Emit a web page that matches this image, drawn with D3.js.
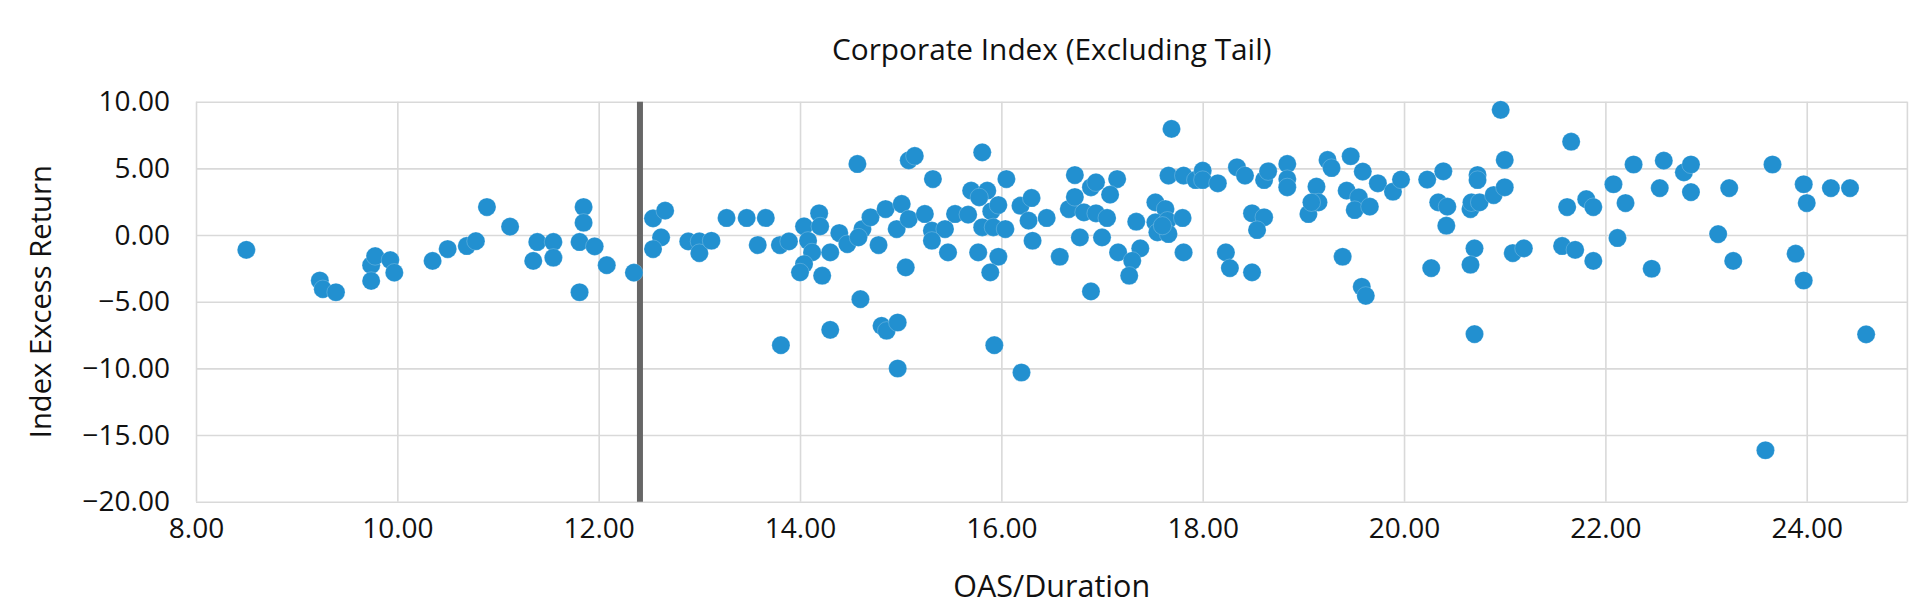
<!DOCTYPE html>
<html>
<head>
<meta charset="utf-8">
<script src="https://cdn.jsdelivr.net/npm/d3@7/dist/d3.min.js"></script>
<style>
  html, body { margin: 0; padding: 0; background: #ffffff; }
  svg { display: block; }
  text { font-family: "Open Sans", "Liberation Sans", sans-serif; fill: #111111; }
</style>
</head>
<body>
<svg id="chart" width="1913" height="616"></svg>
<script>
// ---- data (OAS/Duration, Index Excess Return) ----
const oasDuration = [
  8.50, 9.23, 9.26, 9.39, 9.74, 9.78, 9.74, 9.93, 9.97, 10.35,
  10.50, 10.69, 10.78, 10.89, 11.12, 11.35, 11.39, 11.55, 11.55, 11.81,
  11.81, 11.85, 11.85, 11.96, 12.08, 12.35,
  12.54, 12.66, 12.62, 12.54, 12.89, 13.00, 13.00, 13.12, 13.27, 13.47,
  13.66, 13.58, 13.80, 13.89, 13.81, 14.04, 14.19, 14.20, 14.08, 14.12,
  14.04, 14.00, 14.22, 14.30, 14.30, 14.39, 14.47, 14.57, 14.60,
  14.62, 14.58, 14.70, 14.78, 14.85, 14.96, 15.01, 15.08, 15.05, 15.08,
  15.14, 15.24, 15.32, 15.31, 15.44, 15.31, 15.47, 15.54, 15.67, 15.70,
  15.86, 15.78, 15.90, 15.97, 15.81, 15.92, 16.04, 15.77, 15.97, 15.89,
  15.81, 16.05, 16.19, 16.30, 16.27, 16.45, 16.31, 16.58, 16.67, 16.73,
  16.78, 14.81, 14.86, 14.97, 14.97, 15.93, 16.20,
  16.89, 16.94, 16.73, 17.15, 17.08, 16.82, 16.94, 17.05, 17.00, 17.34,
  17.16, 17.38, 17.30, 17.27, 16.89, 17.53, 17.63, 17.53, 17.65, 17.55,
  17.66, 17.60, 17.80, 17.81, 17.69, 17.66, 17.81, 17.93, 18.00, 18.00,
  18.15, 18.34, 18.42, 18.61, 18.65, 18.84, 18.84, 18.84, 18.49, 18.61,
  18.54, 18.23, 18.27, 18.49,
  19.05, 19.13, 19.15, 19.08, 19.24, 19.28, 19.47, 19.43, 19.55, 19.51,
  19.66, 19.59, 19.74, 19.89, 19.97, 19.39, 19.58, 19.62, 20.23, 20.39,
  20.34, 20.43, 20.42, 20.27, 20.66, 20.67, 20.75, 20.73, 20.73, 20.89,
  21.00, 21.00, 20.96, 20.70, 20.66, 20.70, 21.08, 21.19,
  21.66, 22.28, 22.58, 22.78, 22.85, 23.66, 22.08, 22.54, 22.85, 23.23,
  23.97, 24.24, 24.43, 24.00, 21.62, 21.81, 21.88, 22.20, 22.12, 23.12,
  21.57, 21.70, 21.88, 22.46, 23.27, 23.89, 23.97, 24.59, 23.59
];
const excessReturn = [
  -1.11, -3.41, -4.06, -4.29, -2.26, -1.58, -3.44, -1.88, -2.82, -1.94,
  -1.05, -0.82, -0.46, 2.10, 0.63, -1.94, -0.52, -0.52, -1.70, -0.52,
  -4.29, 2.10, 0.92, -0.85, -2.26, -2.82,
  1.25, 1.83, -0.18, -1.05, -0.48, -0.48, -1.35, -0.43, 1.28, 1.28,
  1.28, -0.75, -0.75, -0.48, -8.26, 0.65, 1.63, 0.65, -0.43, -1.30,
  -2.18, -2.80, -3.05, -1.30, -7.11, 0.15, -0.68, 5.33, -4.81,
  0.45, -0.18, 1.33, -0.75, 1.95, 0.45, 2.33, 1.20, -2.43, 5.60,
  5.93, 1.58, 4.20, 0.33, 0.45, -0.43, -1.30, 1.58, 1.53, 3.33,
  3.33, 2.83, 1.78, 2.25, 0.58, 0.58, 0.45, -1.30, -1.63, -2.80,
  6.20, 4.20, 2.20, 2.78, 1.08, 1.28, -0.43, -1.63, 1.95, 4.50,
  -0.18, -6.81, -7.18, -6.56, -10.01, -8.26, -10.31,
  3.58, 3.95, 2.85, 4.20, 3.03, 1.70, 1.63, 1.28, -0.18, 1.00,
  -1.30, -1.00, -1.93, -3.05, -4.23, 2.45, 1.95, 0.95, 1.08, 0.20,
  0.08, 0.70, 1.28, -1.30, 7.96, 4.46, 4.46, 4.13, 4.83, 4.13,
  3.88, 5.08, 4.46, 4.13, 4.78, 5.33, 4.20, 3.58, 1.63, 1.33,
  0.38, -1.30, -2.48, -2.80,
  1.58, 3.63, 2.45, 2.45, 5.63, 5.03, 5.91, 3.33, 2.83, 1.88,
  2.13, 4.76, 3.88, 3.25, 4.16, -1.63, -3.88, -4.56, 4.16, 4.78,
  2.45, 2.13, 0.70, -2.48, 1.95, 2.45, 2.45, 4.50, 4.13, 3.00,
  3.58, 5.63, 9.39, -1.00, -2.23, -7.43, -1.35, -1.00,
  7.00, 5.29, 5.58, 4.70, 5.29, 5.29, 3.81, 3.52, 3.22, 3.52,
  3.81, 3.52, 3.52, 2.40, 2.10, 2.69, 2.10, 2.40, -0.22, 0.07,
  -0.82, -1.11, -1.94, -2.53, -1.94, -1.40, -3.41, -7.45, -16.14
];
const xTickValues = [8, 10, 12, 14, 16, 18, 20, 22, 24];
const yTickValues = [-20, -15, -10, -5, 0, 5, 10];
const xDomain = [8, 25];
const yDomain = [-20, 10];
const cutoffX = 12.41;   // vertical "tail" cut-off line
const titleText = "Corporate Index (Excluding Tail)";
const xLabelText = "OAS/Duration";
const yLabelText = "Index Excess Return";

// ---- layout ----
const plot = { left: 196, right: 1907.4, top: 101.7, bottom: 501.7 };
const fmt = d3.format(".2f");

const svg = d3.select("#chart");

const x = d3.scaleLinear().domain(xDomain).range([plot.left, plot.right]);
const y = d3.scaleLinear().domain(yDomain).range([plot.bottom, plot.top]);

const gridColor = "#d9d9d9";

// X axis with vertical gridlines
const gx = svg.append("g")
  .attr("transform", `translate(0,${plot.bottom})`)
  .call(d3.axisBottom(x).tickValues(xTickValues).tickFormat(fmt)
        .tickSize(-(plot.bottom - plot.top)).tickPadding(16.5));
gx.select(".domain").remove();
gx.selectAll(".tick line").attr("stroke", gridColor).attr("stroke-width", 1.6);
gx.selectAll(".tick text")
  .attr("font-size", 28).attr("font-family", "'Open Sans', sans-serif").attr("fill", "#111");

// Y axis with horizontal gridlines
const gy = svg.append("g")
  .attr("transform", `translate(${plot.left},0)`)
  .call(d3.axisLeft(y).tickValues(yTickValues).tickFormat(fmt)
        .tickSize(-(plot.right - plot.left)).tickPadding(26));
gy.select(".domain").remove();
gy.selectAll(".tick line").attr("stroke", gridColor).attr("stroke-width", 1.6);
gy.selectAll(".tick text")
  .attr("font-size", 28).attr("font-family", "'Open Sans', sans-serif").attr("fill", "#111");

// plot border (right edge)
svg.append("line")
  .attr("x1", plot.right).attr("x2", plot.right)
  .attr("y1", plot.top).attr("y2", plot.bottom)
  .attr("stroke", gridColor).attr("stroke-width", 1.6);

// cut-off line
svg.append("line")
  .attr("x1", x(cutoffX)).attr("x2", x(cutoffX))
  .attr("y1", y(yDomain[1])).attr("y2", y(yDomain[0]))
  .attr("stroke", "#666666").attr("stroke-width", 6);

// points
const points = oasDuration.map((v, i) => ({ x: v, y: excessReturn[i] }));
svg.append("g")
  .selectAll("circle")
  .data(points)
  .join("circle")
  .attr("cx", d => x(d.x))
  .attr("cy", d => y(d.y))
  .attr("r", 9.1)
  .attr("fill", "#2290d0")
  .attr("stroke", "rgba(255,255,255,0.35)")
  .attr("stroke-width", 0.6);

// title
svg.append("text")
  .attr("x", (plot.left + plot.right) / 2).attr("y", 60)
  .attr("text-anchor", "middle")
  .attr("font-size", 29.8)
  .text(titleText);

// x label
svg.append("text")
  .attr("x", (plot.left + plot.right) / 2).attr("y", 597)
  .attr("text-anchor", "middle")
  .attr("font-size", 30.5)
  .text(xLabelText);

// y label
svg.append("text")
  .attr("transform", `translate(51,${(plot.top + plot.bottom) / 2}) rotate(-90)`)
  .attr("text-anchor", "middle")
  .attr("font-size", 29.2)
  .text(yLabelText);
</script>
</body>
</html>
